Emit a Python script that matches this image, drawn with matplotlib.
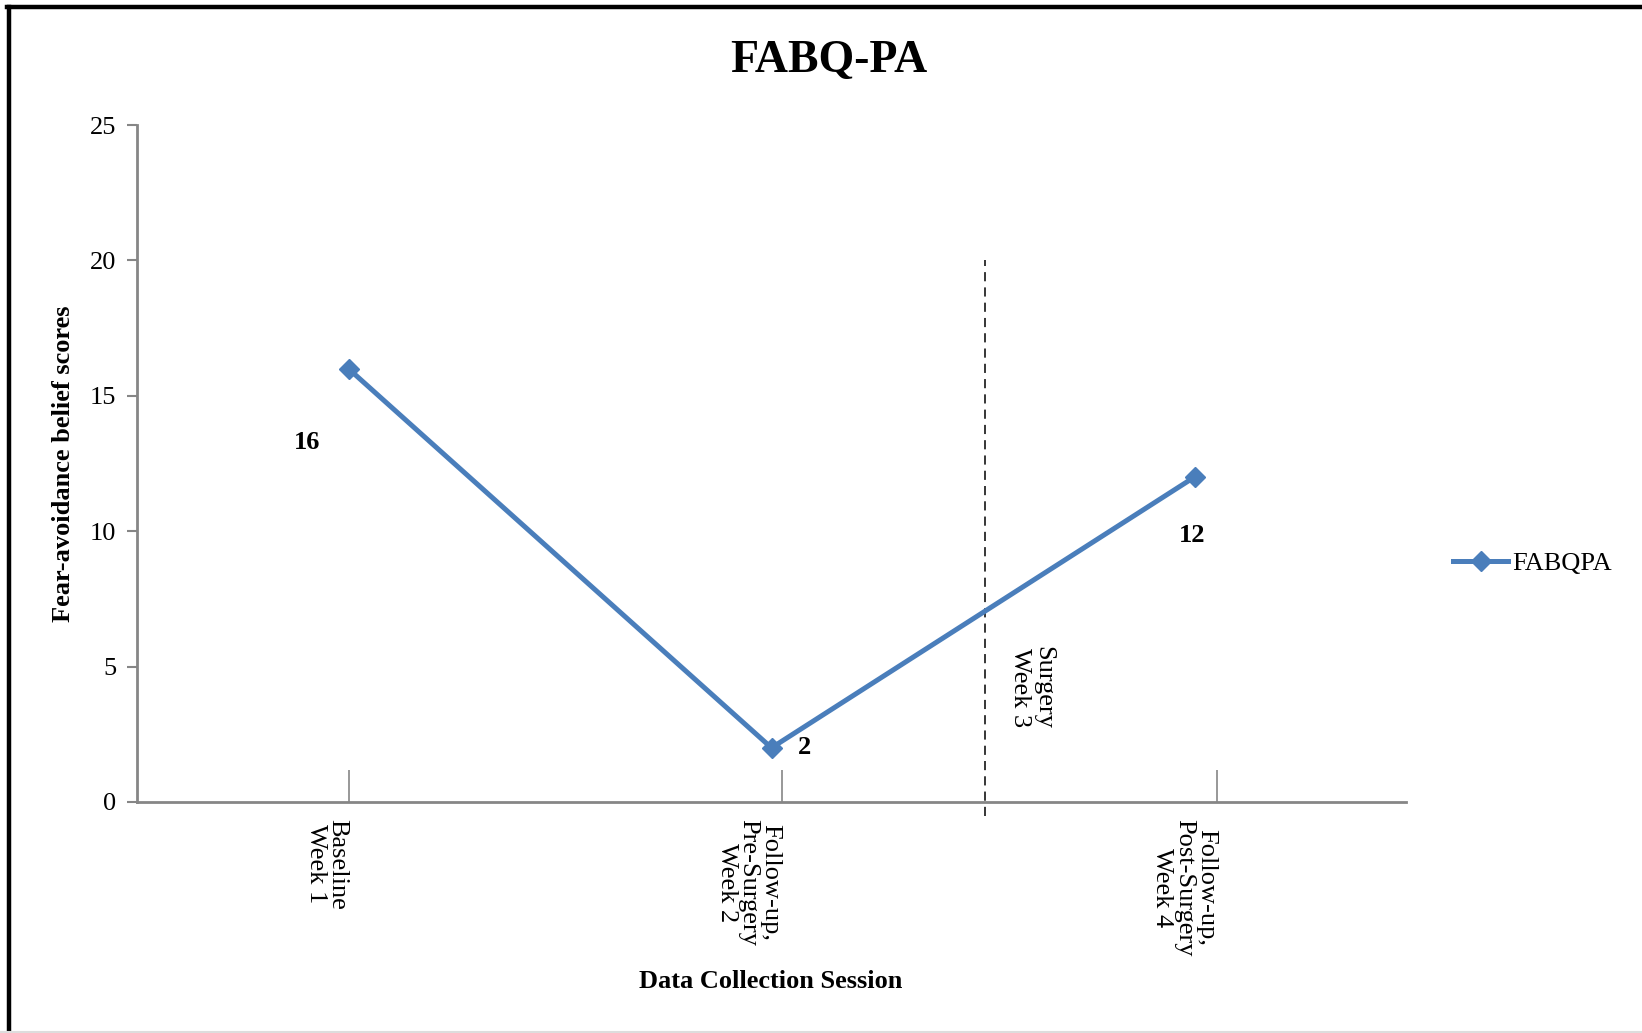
import matplotlib
matplotlib.use("Agg")
import matplotlib.pyplot as plt
from matplotlib.lines import Line2D

plt.rcParams['font.family'] = ['Liberation Serif', 'DejaVu Serif']

# 数据
sessions = ["Baseline\nWeek 1", "Follow-up,\nPre-Surgery\nWeek 2", "Follow-up,\nPost-Surgery\nWeek 4"]
fabqpa = [16, 2, 12]
surgery_label = "Surgery\nWeek 3"

line_color = '#4A7EBB'
axis_color = '#868686'

fig = plt.figure(figsize=(16.42, 10.33), dpi=100)
ax = fig.add_axes([137 / 1642, 1 - 802 / 1033, (1406 - 137) / 1642, (802 - 125) / 1033])

x = list(range(len(sessions)))
ax.plot(x, fabqpa, color=line_color, linewidth=3.6, marker='D', markersize=10,
        markeredgecolor=line_color, label='FABQPA', zorder=3)

# 数据标签
offsets = [(-30, -53), (24, 0), (-2, -42)]
for xi, v, off in zip(x, fabqpa, offsets):
    ax.annotate(str(v), (xi, v), xytext=off, textcoords='offset points',
                ha='center', va='center', fontsize=19, fontweight='bold')

# 手术分隔线
ax.plot([1.505, 1.505], [-0.5, 20], color='black', linestyle=(0, (6, 4)),
        linewidth=1.1, clip_on=False)
ax.text(1.615, 5.75, surgery_label, rotation=270, ha='center', va='top',
        fontsize=19, linespacing=1.1)

ax.set_xlim(-0.5, 2.5)
ax.set_ylim(0, 25)
ax.set_yticks([0, 5, 10, 15, 20, 25])
ax.tick_params(axis='y', direction='out', length=7, width=1.5, color=axis_color,
               labelsize=19, pad=8)

tick_pos = [0, 1.024, 2.054]
ax.set_xticks(tick_pos)
ax.set_xticklabels(sessions, rotation=270, ha='right', va='top',
                   multialignment='center', fontsize=19, linespacing=1.0)
ax.tick_params(axis='x', direction='in', length=23, width=1.2, color=axis_color, pad=12)

for side in ['top', 'right']:
    ax.spines[side].set_visible(False)
for side in ['left', 'bottom']:
    ax.spines[side].set_color(axis_color)
    ax.spines[side].set_linewidth(2)

fig.text(829 / 1642, 1 - 61 / 1033, "FABQ-PA", ha='center', va='center',
         fontsize=33, fontweight='bold')
fig.text(771 / 1642, 1 - 982 / 1033, "Data Collection Session", ha='center', va='center',
         fontsize=19, fontweight='bold')
fig.text(64 / 1642, 1 - 464 / 1033, "Fear-avoidance belief scores", ha='center', va='center',
         rotation=90, fontsize=19, fontweight='bold')

ax.legend(loc='center left', bbox_to_anchor=(1453 / 1642, 1 - 563 / 1033),
          bbox_transform=fig.transFigure, frameon=False, fontsize=19,
          handlelength=2.1, handletextpad=0.15, borderpad=0, borderaxespad=0)

# 图表区边框
fig.add_artist(Line2D([9 / 1642, 9 / 1642], [0, 1 - 6.5 / 1033], color='black',
                      linewidth=3.2, transform=fig.transFigure))
fig.add_artist(Line2D([7 / 1642, 1], [1 - 6.5 / 1033, 1 - 6.5 / 1033], color='black',
                      linewidth=3.2, transform=fig.transFigure))
fig.add_artist(Line2D([0, 1], [1 / 1033, 1 / 1033], color='#dddddd',
                      linewidth=1.5, transform=fig.transFigure))

fig.savefig('out.png', dpi=100)
